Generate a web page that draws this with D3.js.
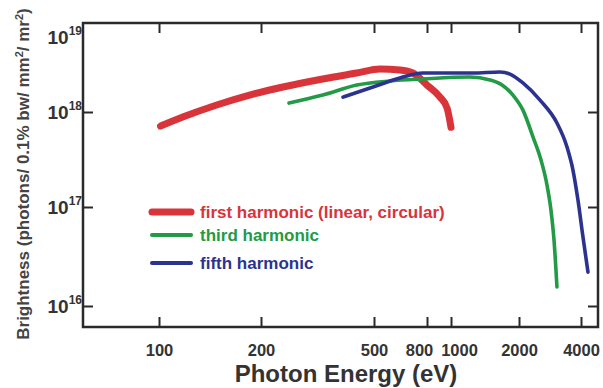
<!DOCTYPE html>
<html>
<head>
<meta charset="utf-8">
<script src="https://cdn.jsdelivr.net/npm/d3@7"></script>
<style>
  body { margin: 0; background: #fff; }
  svg { display: block; font-family: "Liberation Sans", Arial, sans-serif; }
</style>
</head>
<body>
<div id="viz"></div>
<script>
// tick values
const xTicks = [100, 200, 500, 800, 1000, 2000, 4000];
const yExps = [16, 17, 18, 19];

// first harmonic (linear, circular)
const firstE = [101, 118, 148, 185, 239, 330, 435, 527, 629, 706, 800, 903, 964, 1000];
const firstB = [7.1e17, 8.9e17, 1.2e18, 1.55e18, 1.91e18, 2.35e18, 2.74e18, 3.04e18, 2.96e18, 2.74e18, 2.01e18, 1.47e18, 1.11e18, 6.9e17];

// third harmonic
const thirdE = [251, 330, 435, 576, 771, 1214, 1488, 1682, 1880, 2090, 2340, 2558, 2734, 2859, 2958, 3057];
const thirdB = [1.26e18, 1.55e18, 2.01e18, 2.23e18, 2.35e18, 2.47e18, 2.29e18, 2.01e18, 1.55e18, 1.05e18, 5.45e17, 3.12e17, 1.71e17, 9.3e16, 4.64e16, 1.56e16];

// fifth harmonic
const fifthE = [389, 496, 629, 771, 1251, 1648, 1824, 2090, 2530, 3057, 3420, 3656, 3865, 4090, 4325];
const fifthB = [1.47e18, 1.91e18, 2.41e18, 2.74e18, 2.74e18, 2.82e18, 2.67e18, 2.12e18, 1.36e18, 7.66e17, 4.28e17, 2.45e17, 1.19e17, 4.98e16, 2.2e16];

const seriesNames = ['first harmonic (linear, circular)', 'third harmonic', 'fifth harmonic'];
const seriesColors = ['#d8343a', '#229a46', '#2c338f'];

const width = 603, height = 388;
const mLeft = 83, mRight = 598, mTop = 23, mBottom = 327;

const svg = d3.select('#viz')
  .append('svg')
  .attr('width', width)
  .attr('height', height);

// the printed axis is not a clean log axis, so the scale is piecewise log
const x = d3.scaleLog()
  .domain([59.7, 100, 200, 500, 800, 1000, 2000, 4000, 4840])
  .range([mLeft, 159, 261, 374, 427, 451, 519, 581, mRight]);

const y = d3.scaleLog()
  .domain([6.14e15, 1e16, 1e17, 1e18, 1e19])
  .range([mBottom, 306, 207, 112, mTop]);

// curves
const line = d3.line()
  .x(d => x(d[0]))
  .y(d => y(d[1]))
  .curve(d3.curveMonotoneX);

const series = [
  { pts: d3.zip(firstE, firstB), w: 7 },
  { pts: d3.zip(thirdE, thirdB), w: 3.6 },
  { pts: d3.zip(fifthE, fifthB), w: 3.6 }
];

series.forEach((s, i) => {
  svg.append('path')
    .datum(s.pts)
    .attr('d', line)
    .attr('fill', 'none')
    .attr('stroke', seriesColors[i])
    .attr('stroke-width', s.w)
    .attr('stroke-linecap', 'round')
    .attr('stroke-linejoin', 'round');
});

// axes, ticks point inward on all four sides
const tickLen = 10;
const yTickVals = yExps.slice(0, 3).map(e => Math.pow(10, e));
const xAxis = svg.append('g')
  .attr('transform', `translate(0,${mBottom})`)
  .call(d3.axisBottom(x).tickValues(xTicks).tickSize(-tickLen).tickPadding(17)
    .tickFormat(d3.format('d')));
const xTop = svg.append('g')
  .attr('transform', `translate(0,${mTop})`)
  .call(d3.axisTop(x).tickValues(xTicks).tickSize(-tickLen).tickFormat(''));
const yAxis = svg.append('g')
  .attr('transform', `translate(${mLeft},0)`)
  .call(d3.axisLeft(y).tickValues(yTickVals).tickSize(-tickLen).tickFormat(''));
const yRight = svg.append('g')
  .attr('transform', `translate(${mRight},0)`)
  .call(d3.axisRight(y).tickValues(yTickVals).tickSize(-tickLen).tickFormat(''));

[xAxis, xTop, yAxis, yRight].forEach(g => {
  g.select('.domain').remove();
  g.selectAll('.tick line').attr('stroke', '#2a2a2a').attr('stroke-width', 2);
});

// 800 and 1000 sit close together, nudge them apart like the print
const labelNudge = { 800: -8, 1000: 8 };
xAxis.selectAll('.tick text')
  .attr('fill', '#333')
  .attr('font-size', 16.5)
  .attr('font-weight', 'bold')
  .attr('dx', d => labelNudge[d] || 0);

// frame
svg.append('rect')
  .attr('x', mLeft).attr('y', mTop)
  .attr('width', mRight - mLeft).attr('height', mBottom - mTop)
  .attr('fill', 'none')
  .attr('stroke', '#2a2a2a')
  .attr('stroke-width', 2.5);

// y tick labels as 10 with superscript
yExps.forEach(e => {
  const t = svg.append('text')
    .attr('x', mLeft - 1)
    .attr('y', Math.max(y(Math.pow(10, e)), mTop + 14) + 7)
    .attr('text-anchor', 'end')
    .attr('fill', '#333')
    .attr('font-weight', 'bold')
    .attr('font-size', 19);
  t.append('tspan').text('10');
  t.append('tspan').attr('font-size', 12).attr('dy', -9).text(e);
});

// axis titles
svg.append('text')
  .attr('x', 346).attr('y', 382)
  .attr('text-anchor', 'middle')
  .attr('fill', '#333')
  .attr('font-weight', 'bold')
  .attr('font-size', 24)
  .text('Photon Energy (eV)');

const yt = svg.append('text')
  .attr('transform', 'translate(29,174) rotate(-90)')
  .attr('text-anchor', 'middle')
  .attr('fill', '#444')
  .attr('font-weight', 'bold')
  .attr('font-size', 17);
yt.append('tspan').text('Brightness (photons/ 0.1% bw/ mm');
yt.append('tspan').attr('font-size', 11).attr('dy', -6).text('2');
yt.append('tspan').attr('dy', 6).text('/ mr');
yt.append('tspan').attr('font-size', 11).attr('dy', -6).text('2');
yt.append('tspan').attr('dy', 6).text(')');

// legend
const legendY = [212, 235, 263];
const legendW = [7, 4, 4];
seriesNames.forEach((name, i) => {
  svg.append('line')
    .attr('x1', 152).attr('x2', 191)
    .attr('y1', legendY[i]).attr('y2', legendY[i])
    .attr('stroke', seriesColors[i])
    .attr('stroke-width', legendW[i])
    .attr('stroke-linecap', 'round');
  svg.append('text')
    .attr('x', 200).attr('y', legendY[i] + 6)
    .attr('fill', seriesColors[i])
    .attr('font-weight', 'bold')
    .attr('font-size', 17)
    .text(name);
});
</script>
</body>
</html>
